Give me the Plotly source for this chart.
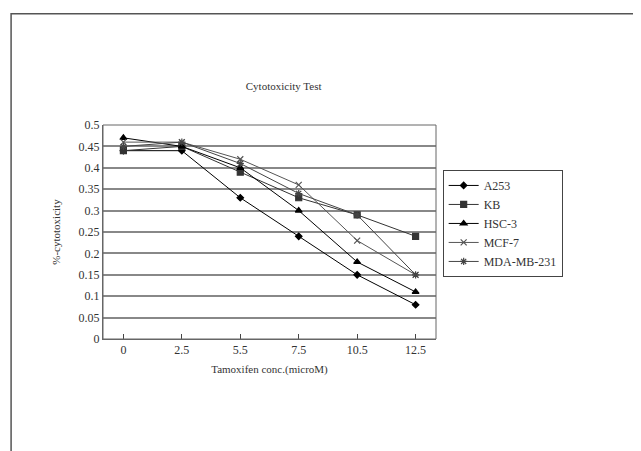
import plotly.graph_objects as go

conc = ["0", "2.5", "5.5", "7.5", "10.5", "12.5"]
a253 = [0.44, 0.44, 0.33, 0.24, 0.15, 0.08]
kb = [0.44, 0.45, 0.39, 0.33, 0.29, 0.24]
hsc3 = [0.47, 0.45, 0.40, 0.30, 0.18, 0.11]
mcf7 = [0.46, 0.46, 0.42, 0.36, 0.23, 0.15]
mda = [0.45, 0.46, 0.41, 0.34, 0.29, 0.15]
yticks = [0, 0.05, 0.1, 0.15, 0.2, 0.25, 0.3, 0.35, 0.4, 0.45, 0.5]
ylabels = ["0", "0.05", "0.1", "0.15", "0.2", "0.25", "0.3", "0.35", "0.4", "0.45", "0.5"]

series = [
    ("A253", a253, "black", "diamond", 5),
    ("KB", kb, "#333", "square", 6),
    ("HSC-3", hsc3, "black", "triangle-up", 6),
    ("MCF-7", mcf7, "#555", "x-thin", 6),
    ("MDA-MB-231", mda, "#444", "asterisk", 6),
]

fig = go.Figure()
for name, vals, col, sym, sz in series:
    fig.add_trace(go.Scatter(
        x=conc, y=vals, name=name, mode="lines+markers",
        line=dict(color=col, width=1),
        marker=dict(symbol=sym, size=sz, color=col, line=dict(color=col, width=1.2)),
    ))

fig.update_layout(
    width=641, height=451,
    paper_bgcolor="white", plot_bgcolor="white",
    font=dict(family="Liberation Serif", size=12, color="#333"),
    title=dict(text="Cytotoxicity Test", x=0.43, xanchor="center", y=0.835, font=dict(size=11)),
    margin=dict(l=95, r=213, t=117, b=120),
    showlegend=True,
    legend=dict(x=1.02, y=0.79, yanchor="top", bordercolor="#444", borderwidth=1,
                font=dict(size=12), tracegroupgap=4),
    xaxis=dict(title=dict(text="Tamoxifen conc.(microM)", standoff=8, font=dict(size=11)),
               showline=True, linecolor="#666", ticks="inside", showgrid=False),
    yaxis=dict(title=dict(text="%-cytotoxicity", font=dict(size=11)),
               range=[0, 0.5], tickvals=yticks, ticktext=ylabels,
               showgrid=True, gridcolor="#888", gridwidth=1.5,
               showline=True, linecolor="#666"),
    shapes=[
        dict(type="rect", xref="paper", yref="paper", x0=0, x1=1, y0=0, y1=1,
             line=dict(color="#666", width=1)),
        dict(type="rect", xref="paper", yref="paper", x0=-0.276, x1=1.628, y0=-0.55, y1=1.52,
             line=dict(color="#555", width=1.5)),
    ],
)
fig.write_html("out.html")
